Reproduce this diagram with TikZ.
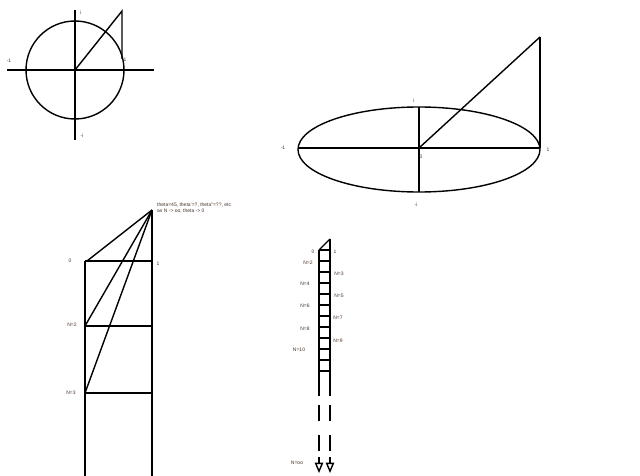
\documentclass[tikz,border=0pt]{standalone}
\usepackage{fontspec}
\setmainfont{Liberation Sans}
\usetikzlibrary{arrows, positioning}
\definecolor{labelcol}{RGB}{70,50,40}
\tikzstyle{line} = [line width=1.4pt, black]
\tikzstyle{heavy} = [line width=2.4pt, black]
\tikzstyle{tag} = [font=\fontsize{5}{6}\selectfont, text=labelcol, inner sep=0pt]
\tikzstyle{arrow} = [line width=1.4pt, ->, >=open triangle 45]

\begin{document}
\begin{tikzpicture}[x=1pt, y=-1pt]
    \useasboundingbox (0,0) rectangle (640,476);
    % unit circle
    \coordinate (CircO) at (75,70);
    \coordinate (CircL) at (7,70);
    \coordinate (CircR) at (154,70);
    \coordinate (CircT) at (75,10);
    \coordinate (CircB) at (75,140);
    \coordinate (CircTip) at (122,11);
    \coordinate (CircFoot) at (122,59);
    \draw [line] (CircO) circle (49pt);
    \draw [line] (CircL) -- (CircR);
    \draw [line] (CircT) -- (CircB);
    \draw [line] (CircO) -- (CircTip) -- (CircFoot);
    \node (CircI) [tag] at (81,13) {i};
    \node (CircMinusI) [tag] at (82,136) {-i};
    \node (CircMinusOne) [tag] at (9,61) {-1};
    \node (CircOne) [tag] at (125,60) {1};
    % stretched circle
    \coordinate (EllO) at (419,148);
    \coordinate (EllL) at (298,148);
    \coordinate (EllR) at (540,148);
    \coordinate (EllT) at (419,107);
    \coordinate (EllB) at (419,192);
    \coordinate (EllTip) at (540,37);
    \draw [line] (419,149.5) ellipse [x radius=121pt, y radius=42.5pt];
    \draw [line] (EllL) -- (EllR);
    \draw [line] (EllT) -- (EllB);
    \draw [line] (EllO) -- (EllTip);
    \draw [heavy] (EllTip) -- ++(0,12);
    \draw [line] (EllTip) -- (EllR);
    \node (EllI) [tag] at (414,101) {i};
    \node (EllMinusI) [tag] at (416,205) {-i};
    \node (EllMinusOne) [tag] at (283,148) {-1};
    \node (EllZero) [tag] at (421,157) {0};
    \node (EllOne) [tag] at (548,150) {1};
    % wide ladder
    \coordinate (WideApex) at (152,210);
    \coordinate (WideTL) at (85,261);
    \coordinate (WideTR) at (152,261);
    \coordinate (WideTwoL) at (85,326);
    \coordinate (WideTwoR) at (152,326);
    \coordinate (WideThreeL) at (85,393);
    \coordinate (WideThreeR) at (152,393);
    \coordinate (WideBL) at (85,476);
    \coordinate (WideBR) at (152,476);
    \draw [heavy] (WideTL) -- (WideTR);
    \draw [heavy] (WideTL) -- (WideThreeL);
    \draw [line] (WideThreeL) -- (WideBL);
    \draw [line] (WideApex) -- (WideBR);
    \draw [line] (WideTwoL) -- (WideTwoR);
    \draw [line] (WideThreeL) -- (WideThreeR);
    \draw [line] (WideApex) -- (87,261);
    \draw [line] (WideApex) -- (WideTwoL);
    \draw [line] (WideApex) -- (WideThreeL);
    \node (WideZero) [tag] at (70,261) {0};
    \node (WideOne) [tag] at (158,264) {1};
    \node (WideTwo) [tag] at (72,325) {N=2};
    \node (WideThree) [tag] at (71,393) {N=3};
    \node (Remark) [tag, anchor=north west, align=left] at (157,203) {theta=45, theta'=?, theta''=??, etc\\as N -> oo, theta -> 0};
    % narrow ladder
    \coordinate (NarrApex) at (330,239);
    \coordinate (NarrTL) at (319,250);
    \coordinate (NarrBL) at (319,396);
    \coordinate (NarrBR) at (330,396);
    \draw [line] (NarrTL) -- (NarrApex);
    \draw [line] (NarrTL) -- (NarrBL);
    \draw [line] (NarrApex) -- (NarrBR);
    \foreach \k in {0,...,11}
        \draw [heavy] (319,250+11*\k) -- (330,250+11*\k);
    \foreach \y in {405,435}
        \draw [line] (319,\y) -- (319,\y+16) (330,\y) -- (330,\y+16);
    \coordinate (NarrInfL) at (319,473);
    \coordinate (NarrInfR) at (330,473);
    \draw [arrow] (319,457) -- (NarrInfL);
    \draw [arrow] (330,457) -- (NarrInfR);
    \node (NarrZero) [tag] at (313,252) {0};
    \node (NarrOne) [tag] at (335,252) {1};
    \foreach \n/\x/\y in {2/308/263, 4/305/284, 6/305/306, 8/305/329, 10/299/350}
        \node (NarrN\n) [tag] at (\x,\y) {N=\n};
    \foreach \n/\x/\y in {3/339/274, 5/339/296, 7/338/318, 9/338/341}
        \node (NarrN\n) [tag] at (\x,\y) {N=\n};
    \node (NarrInf) [tag] at (297,463) {N=oo};
\end{tikzpicture}
\end{document}
